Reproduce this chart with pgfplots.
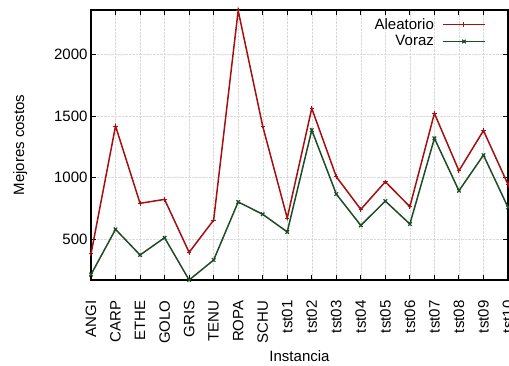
\documentclass[border=0pt]{standalone}
\usepackage{pgfplots}
\pgfplotsset{compat=1.18}
\usepackage{fontspec}
\setmainfont{Liberation Sans}
\definecolor{cred}{RGB}{165,15,15}
\definecolor{cgreen}{RGB}{30,75,40}
\begin{document}
\begin{tikzpicture}
\begin{axis}[
  at={(91pt,85pt)}, anchor=south west,
  scale only axis, width=417pt, height=270pt,
  xmin=0, xmax=17, ymin=170, ymax=2360,
  clip=false,
  xtick={0,...,17},
  xticklabels={ANGI,CARP,ETHE,GOLO,GRIS,TENU,ROPA,SCHU,tst01,tst02,tst03,tst04,tst05,tst06,tst07,tst08,tst09,tst10},
  x tick label style={rotate=90, anchor=east},
  xticklabel shift=17pt,
  ytick={500,1000,1500,2000},
  tick align=inside, major tick length=5pt,
  tick style={black, line width=1pt},
  font=\fontsize{15}{18}\selectfont,
  ticklabel style={font=\fontsize{15}{18}\selectfont},
  /pgf/number format/assume math mode=true,
  /pgf/number format/1000 sep={},
  xlabel={Instancia}, ylabel={Mejores costos},
  ylabel style={yshift=20pt},
  grid=major, grid style={gray!30, densely dotted, line width=0.4pt},
  axis line style={line width=1.2pt},
  legend plot pos=right,
  legend cell align=right,
  legend style={draw=none, fill=none, at={(0.955,0.985)}, anchor=north east,
    font=\fontsize{15}{17}\selectfont, row sep=1pt, column sep=6pt},
  legend image code/.code={\draw[mark repeat=2,mark phase=2,#1] plot coordinates {(0cm,0cm)(0.75cm,0cm)(1.5cm,0cm)};},
]
\addplot[cred, line width=1.5pt, mark=+, mark size=2.2pt, mark options={line width=1pt}] coordinates {
(0,381)(1,1419)(2,792)(3,824)(4,394)(5,656)(6,2355)(7,1418)(8,672)(9,1562)(10,1008)(11,743)(12,967)(13,765)(14,1522)(15,1056)(16,1382)(17,945)};
\addlegendentry{Aleatorio}
\addplot[cgreen, line width=1.5pt, mark=x, mark size=2.5pt, mark options={line width=1.2pt}] coordinates {
(0,214)(1,581)(2,373)(3,513)(4,170)(5,332)(6,803)(7,703)(8,560)(9,1386)(10,867)(11,613)(12,810)(13,624)(14,1319)(15,894)(16,1183)(17,759)};
\addlegendentry{Voraz}
\end{axis}
\pgfresetboundingbox
\path[use as bounding box] (0,0) rectangle (509pt,365pt);
\end{tikzpicture}
\end{document}
